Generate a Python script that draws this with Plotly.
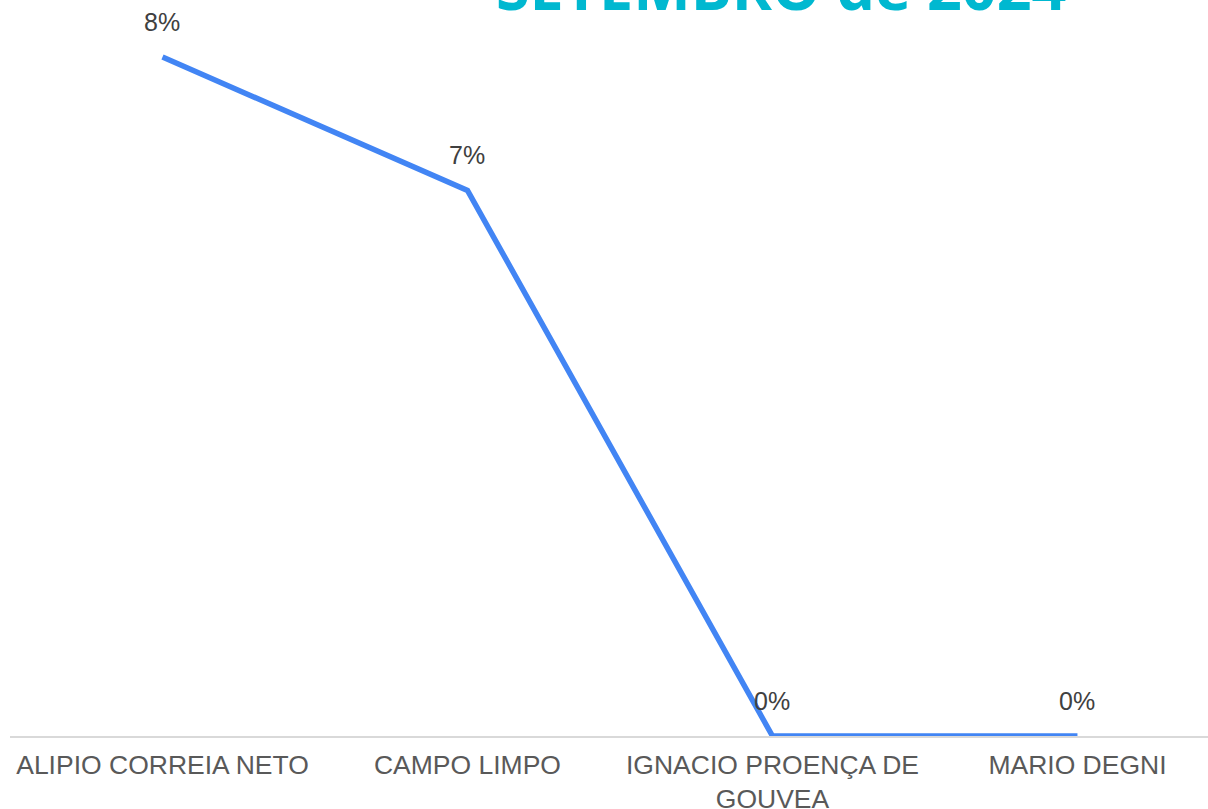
import plotly.graph_objects as go

categories = ["ALIPIO CORREIA NETO", "CAMPO LIMPO", "IGNACIO PROENÇA DE<br>GOUVEA", "MARIO DEGNI"]
values = [0.084, 0.0675, 0.0, 0.0]
value_labels = ["8%", "7%", "0%", "0%"]
title_text = "SETEMBRO de 2024"

xs = list(range(len(categories)))

fig = go.Figure()
fig.add_trace(go.Scatter(
    x=xs, y=values, mode="lines",
    line=dict(color="#4285F4", width=5.5),
    hoverinfo="skip", cliponaxis=False,
))

for x, y, t in zip(xs, values, value_labels):
    fig.add_annotation(x=x, y=y, xref="x", yref="y", text=t, showarrow=False,
                       yshift=35, font=dict(family="Liberation Sans, Arial", size=25, color="#404040"))

fig.add_annotation(x=0.6436, y=1.0, xref="paper", yref="paper", text="<b>" + title_text + "</b>",
                   showarrow=False, yanchor="bottom", yshift=-30,
                   font=dict(family="Open Sans", size=61, color="#00B8D0"))

fig.update_layout(
    width=1208, height=809,
    margin=dict(l=10, r=0, t=0, b=73),
    plot_bgcolor="white", paper_bgcolor="white",
    showlegend=False,
    xaxis=dict(
        range=[-0.5, 3.428], tickmode="array", tickvals=xs, ticktext=categories,
        showgrid=False, zeroline=False, showline=True, linecolor="#D9D9D9", linewidth=2,
        ticks="", tickfont=dict(family="Liberation Sans, Arial", size=26.5, color="#595959"),
        ticklabelstandoff=4, automargin=False,
    ),
    yaxis=dict(range=[0, 0.09105], visible=False, automargin=False),
)

fig.write_html("out.html", config={"displayModeBar": False},
               post_script="document.body.style.margin='0';")
